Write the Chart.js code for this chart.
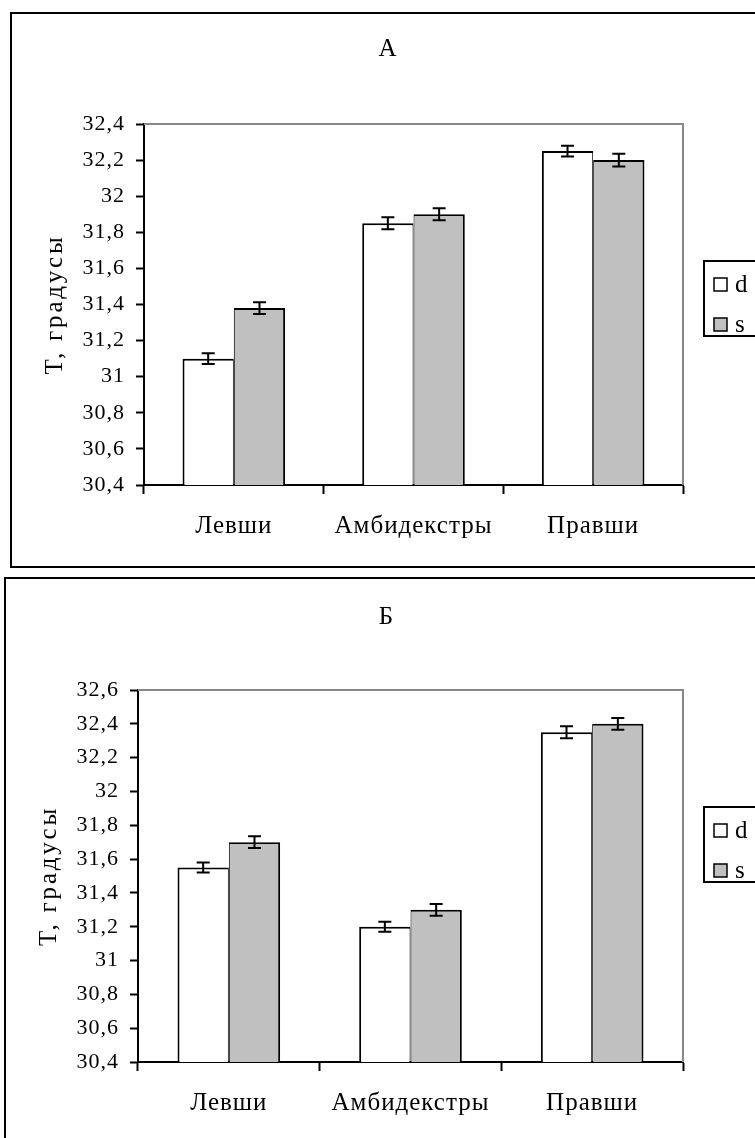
<!DOCTYPE html>
<html>
<head>
<meta charset="utf-8">
<script src="https://cdn.jsdelivr.net/npm/chart.js@4"></script>
<style>
    html, body { margin: 0; padding: 0; background: #fff; overflow: hidden; width: 755px; height: 1138px; }
    .frame { position: absolute; border: 2px solid #000; background: #fff; }
    #frameA { left: 10px; top: 12px; width: 800px; height: 552px; }
    #frameB { left: 4px; top: 577px; width: 800px; height: 600px; }
    canvas { position: absolute; left: 0; top: 0; }
</style>
</head>
<body>
<div class="frame" id="frameA"><canvas id="chartA" width="752" height="552"></canvas></div>
<div class="frame" id="frameB"><canvas id="chartB" width="761" height="560"></canvas></div>
<script>
// data
const categories = ['Левши', 'Амбидекстры', 'Правши'];
const seriesNames = ['d', 's'];

const dA = [31.1, 31.85, 32.25];
const sA = [31.38, 31.9, 32.2];
const dAerr = [0.03, 0.033, 0.03];
const sAerr = [0.033, 0.033, 0.035];

const dB = [31.55, 31.2, 32.35];
const sB = [31.7, 31.3, 32.4];
const dBerr = [0.03, 0.03, 0.035];
const sBerr = [0.035, 0.035, 0.035];

const ticksA = [30.4, 30.6, 30.8, 31, 31.2, 31.4, 31.6, 31.8, 32, 32.2, 32.4];
const ticksB = [30.4, 30.6, 30.8, 31, 31.2, 31.4, 31.6, 31.8, 32, 32.2, 32.4, 32.6];

const FONT = '"Liberation Serif", "Times New Roman", serif';
Chart.defaults.color = '#000';
Chart.defaults.font.family = FONT;

function fmt(v) {
    return String(Number(v.toFixed(1))).replace('.', ',');
}

// the old Excel picture has wider letter spacing than the font itself
const spacing = {
    id: 'spacing',
    beforeDraw(chart) {
        chart.ctx.letterSpacing = '1px';
    },
    afterLayout(chart) {
        const sc = chart.scales.y;
        if (sc.drawTitle.wrapped) return;
        const orig = sc.drawTitle;
        sc.drawTitle = function() {
            const c = this.ctx;
            const prev = c.letterSpacing;
            c.letterSpacing = '2.8px';
            orig.call(this);
            c.letterSpacing = prev;
        };
        sc.drawTitle.wrapped = true;
    }
};

// gray top/right frame of the plot area
const plotFrame = {
    id: 'plotFrame',
    beforeDatasetsDraw(chart) {
        const {ctx, chartArea: a} = chart;
        ctx.save();
        ctx.strokeStyle = '#888';
        ctx.lineWidth = 2;
        ctx.beginPath();
        ctx.moveTo(a.left, a.top);
        ctx.lineTo(a.right, a.top);
        ctx.lineTo(a.right, a.bottom);
        ctx.stroke();
        ctx.restore();
    }
};

// error bars from dataset.errors
const errorBars = {
    id: 'errorBars',
    afterDatasetsDraw(chart) {
        const {ctx} = chart;
        const y = chart.scales.y;
        ctx.save();
        ctx.strokeStyle = '#000';
        ctx.lineWidth = 2;
        chart.data.datasets.forEach((ds, i) => {
            chart.getDatasetMeta(i).data.forEach((bar, j) => {
                const v = ds.data[j], e = ds.errors[j];
                const hi = y.getPixelForValue(v + e);
                const lo = y.getPixelForValue(v - e);
                ctx.beginPath();
                ctx.moveTo(bar.x, hi); ctx.lineTo(bar.x, lo);
                ctx.moveTo(bar.x - 6.5, hi); ctx.lineTo(bar.x + 6.5, hi);
                ctx.moveTo(bar.x - 6.5, lo); ctx.lineTo(bar.x + 6.5, lo);
                ctx.stroke();
            });
        });
        ctx.restore();
    }
};

// framed legend, added as a right-hand layout box so the title stays centred on the canvas
const boxLegend = {
    id: 'boxLegend',
    start(chart, args, opts) {
        const box = {
            position: 'right',
            weight: 1000,
            fullSize: false,
            options: {},
            top: 0, left: 0, right: 0, bottom: 0, width: 0, height: 0,
            isHorizontal() { return false; },
            update(maxWidth, maxHeight) {
                this.width = opts.width;
                this.height = maxHeight;
            },
            draw() {
                const ctx = chart.ctx;
                const x = this.left + opts.gap;
                const y = chart.chartArea.top + opts.offsetTop;
                ctx.save();
                ctx.letterSpacing = '0px';
                ctx.strokeStyle = '#000';
                ctx.lineWidth = 2;
                ctx.strokeRect(x, y, 200, 75);
                ctx.font = '25px ' + FONT;
                ctx.textBaseline = 'middle';
                chart.data.datasets.forEach((ds, i) => {
                    const sy = y + 17 + i * 40;
                    ctx.fillStyle = ds.backgroundColor;
                    ctx.fillRect(x + 10, sy, 13, 13);
                    ctx.lineWidth = 1.5;
                    ctx.strokeRect(x + 10, sy, 13, 13);
                    ctx.fillStyle = '#000';
                    ctx.fillText(ds.label, x + 31, sy + 7);
                });
                ctx.restore();
            }
        };
        Chart.layouts.addBox(chart, box);
        chart.$boxLegend = box;
    },
    stop(chart) {
        Chart.layouts.removeBox(chart, chart.$boxLegend);
    }
};

function makeChart(id, title, d, s, dErr, sErr, ticks, box) {
    const config = {
        type: 'bar',
        data: {
            labels: categories,
            datasets: [
                {
                    label: seriesNames[0],
                    data: d,
                    errors: dErr,
                    backgroundColor: '#ffffff',
                    borderColor: '#000',
                    borderWidth: {top: 2, left: 2, right: 1, bottom: 0},
                    barPercentage: 1,
                    categoryPercentage: box.catPct
                },
                {
                    label: seriesNames[1],
                    data: s,
                    errors: sErr,
                    backgroundColor: '#c0c0c0',
                    borderColor: '#000',
                    borderWidth: {top: 2, left: 1, right: 2, bottom: 0},
                    barPercentage: 1,
                    categoryPercentage: box.catPct
                }
            ]
        },
        options: {
            responsive: false,
            animation: false,
            devicePixelRatio: 1,
            layout: {padding: 0},
            scales: {
                y: {
                    min: ticks[0],
                    max: ticks[ticks.length - 1],
                    afterBuildTicks: (sc) => { sc.ticks = ticks.map(v => ({value: v})); },
                    afterFit: (sc) => { sc.width = box.left; },
                    ticks: {
                        callback: (v) => fmt(v),
                        font: {size: 22},
                        padding: 11,
                        autoSkip: false
                    },
                    grid: {
                        drawOnChartArea: false,
                        tickLength: 8,
                        tickColor: '#000',
                        tickWidth: 2
                    },
                    border: {color: '#000', width: 2},
                    title: {
                        display: true,
                        text: 'Т, градусы',
                        font: {size: 25, lineHeight: 1.2},
                        padding: {top: 28, bottom: 0}
                    }
                },
                x: {
                    afterFit: (sc) => { sc.height = box.xHeight; },
                    ticks: {
                        font: {size: 25},
                        padding: 17,
                        maxRotation: 0
                    },
                    grid: {
                        offset: true,
                        drawOnChartArea: false,
                        tickLength: 9,
                        tickColor: '#000',
                        tickWidth: 2
                    },
                    border: {color: '#000', width: 2}
                }
            },
            plugins: {
                legend: {display: false},
                tooltip: {enabled: false},
                title: {
                    display: true,
                    text: title,
                    font: {size: 25, weight: 'normal', lineHeight: 1.2},
                    padding: {top: box.titleTop, bottom: box.titleBottom}
                },
                boxLegend: {width: box.legendWidth, gap: 21, offsetTop: box.legendTop}
            }
        },
        plugins: [spacing, plotFrame, errorBars, boxLegend]
    };
    return new Chart(document.getElementById(id).getContext('2d'), config);
}

makeChart('chartA', 'А', dA, sA, dAerr, sAerr, ticksA,
    {left: 132, legendWidth: 81, xHeight: 81, titleTop: 20.5, titleBottom: 59.5, legendTop: 137, catPct: 0.571});
makeChart('chartB', 'Б', dB, sB, dBerr, sBerr, ticksB,
    {left: 132, legendWidth: 84, xHeight: 77, titleTop: 23, titleBottom: 58, legendTop: 117, catPct: 0.565});
</script>
</body>
</html>
